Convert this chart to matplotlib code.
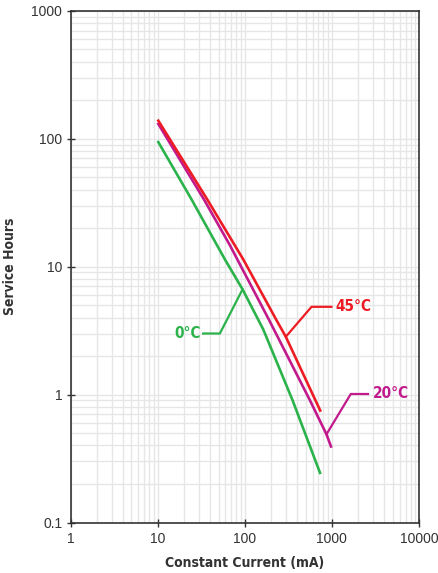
import matplotlib
matplotlib.use("Agg")
import matplotlib.pyplot as plt
from matplotlib import font_manager as fm
from matplotlib.ticker import FixedLocator, NullFormatter, LogLocator

# Data (current mA, service hours)
i_45 = [10, 36.5, 96, 231, 296, 746]
h_45 = [141, 34.1, 11.4, 3.82, 2.83, 0.734]

i_20 = [10, 34, 67.5, 190.5, 558, 867, 989]
h_20 = [133, 33.5, 14.7, 3.82, 0.906, 0.489, 0.384]

i_0 = [10, 24.5, 59.1, 94.4, 163, 353, 740]
h_0 = [96, 33.5, 11.4, 6.64, 3.23, 0.906, 0.239]

# Callout leader lines
c45_x = [296, 584, 989]
c45_y = [2.83, 4.85, 4.85]
c20_x = [867, 1648, 2600]
c20_y = [0.489, 1.01, 1.01]
c0_x = [94.4, 51.8, 33.3]
c0_y = [6.64, 3.0, 3.0]

labels = ["45°C", "20°C", "0°C"]
xticks = [1, 10, 100, 1000, 10000]
xticklabels = ["1", "10", "100", "1000", "10000"]
yticks = [0.1, 1, 10, 100, 1000]
yticklabels = ["0.1", "1", "10", "100", "1000"]

red = "#ed1c24"
mag = "#c2198d"
grn = "#2bb34b"

names = {f.name for f in fm.fontManager.ttflist}
cond_stretch = "normal"
if "Liberation Sans Narrow" in names:
    cond = ["Liberation Sans Narrow", "DejaVu Sans"]
    lab_size = 12
elif any(f.name == "DejaVu Sans" and str(f.stretch) in ("condensed", "semi-condensed")
         for f in fm.fontManager.ttflist):
    cond = ["DejaVu Sans"]
    cond_stretch = "condensed"
    lab_size = 10
else:
    cond = ["Liberation Sans", "DejaVu Sans"]
    lab_size = 10
tick_font = ["Liberation Sans", "DejaVu Sans"]

fig = plt.figure(figsize=(4.39, 5.73), dpi=100)
ax = fig.add_axes([70.5/439, 1-522.5/573, 348.5/439, 511.8/573])
ax.set_xscale("log")
ax.set_yscale("log")
ax.set_xlim(1, 10000)
ax.set_ylim(0.1, 1000)

ax.xaxis.set_major_locator(FixedLocator(xticks))
ax.yaxis.set_major_locator(FixedLocator(yticks))
ax.xaxis.set_minor_locator(LogLocator(base=10, subs=range(2, 10)))
ax.yaxis.set_minor_locator(LogLocator(base=10, subs=range(2, 10)))
ax.xaxis.set_minor_formatter(NullFormatter())
ax.yaxis.set_minor_formatter(NullFormatter())
ax.set_xticklabels(xticklabels, family=tick_font, fontsize=10, color="#333333")
ax.set_yticklabels(yticklabels, family=tick_font, fontsize=10, color="#333333")
ax.tick_params(which="major", direction="inout", length=6, width=1, color="#333333")
ax.tick_params(axis="x", which="major", pad=4)
ax.tick_params(axis="y", which="major", pad=3)
ax.tick_params(which="minor", length=0)

ax.grid(True, which="both", color="#e6e6e6", lw=1)
ax.set_axisbelow(True)
for s in ax.spines.values():
    s.set_color("#333333")
    s.set_linewidth(1.2)

ax.plot(i_0, h_0, color=grn, lw=1.9, solid_capstyle="butt")
ax.plot(i_20, h_20, color=mag, lw=1.9, solid_capstyle="butt")
ax.plot(i_45, h_45, color=red, lw=1.9, solid_capstyle="butt")

ax.plot(c45_x, c45_y, color=red, lw=1.6)
ax.plot(c20_x, c20_y, color=mag, lw=1.6)
ax.plot(c0_x, c0_y, color=grn, lw=1.6)

tkw = dict(fontsize=lab_size + 1, fontweight="bold", family=cond, stretch=cond_stretch,
           va="center")
ax.text(1109, 4.85, labels[0], color=red, ha="left", **tkw)
ax.text(2922, 1.01, labels[1], color=mag, ha="left", **tkw)
ax.text(31.4, 3.0, labels[2], color=grn, ha="right", **tkw)

ax.set_xlabel("Constant Current (mA)", family=cond, stretch=cond_stretch,
              fontsize=lab_size, fontweight="bold", color="#333333", labelpad=7)
ax.set_ylabel("Service Hours", family=cond, stretch=cond_stretch,
              fontsize=lab_size, fontweight="bold", color="#333333", labelpad=10)

fig.savefig("out.png", dpi=100)
